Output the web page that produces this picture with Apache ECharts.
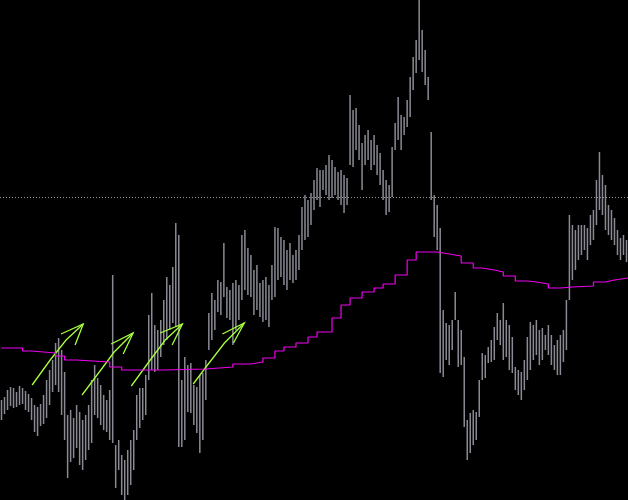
<!DOCTYPE html>
<html><head><meta charset="utf-8">
<script src="https://cdn.jsdelivr.net/npm/echarts@6/dist/echarts.min.js"></script>
<style>html,body{margin:0;padding:0;background:#000;}#c{width:628px;height:500px;}</style>
</head><body><div id="c"></div>
<script>
// Bar highs (price units)
var highs = [100,103,110,113,112,108,114,112,109,106,102,95,93,96,105,120,130,140,157,162,
150,128,85,90,82,95,88,80,85,95,120,135,122,115,105,100,110,225,55,60,
45,40,50,60,70,105,112,112,125,185,207,175,170,180,200,223,215,233,277,265,
120,143,135,137,115,113,125,127,140,187,207,200,220,218,257,213,210,217,220,215,
265,270,252,245,230,235,217,220,223,215,235,273,272,263,260,250,257,245,250,265,
293,305,300,307,320,332,330,330,335,345,340,333,328,330,325,322,405,390,392,375,
357,365,370,360,365,355,347,330,320,315,353,377,403,385,383,400,423,443,460,500,
470,450,423,368,305,295,272,190,177,175,180,208,180,170,143,80,87,90,88,120,
147,145,153,160,173,187,180,197,180,175,163,133,130,128,140,163,178,175,180,170,
172,165,175,165,155,160,165,170,200,285,275,270,275,275,275,272,285,290,320,348,
325,315,295,290,282,270,262,265,260];
// Bar lows (price units)
var lows = [80,86,90,94,92,93,95,96,90,88,80,68,64,74,76,82,95,108,115,108,
85,60,22,38,42,52,35,30,40,50,57,85,82,75,70,68,60,57,12,30,
5,0,5,15,30,60,72,80,85,120,130,128,130,143,155,160,170,177,173,53,
53,60,88,87,75,67,47,60,100,150,160,170,188,185,203,182,180,155,170,180,
200,210,205,203,185,190,183,178,180,173,200,203,220,223,215,210,220,217,220,230,
250,260,263,275,290,300,293,310,305,300,302,305,300,295,287,295,335,333,350,340,
310,335,340,330,335,325,315,300,285,288,303,350,360,350,365,373,383,410,427,440,
428,415,400,300,263,250,127,123,140,135,150,180,133,135,73,40,47,55,60,83,
120,122,137,138,140,160,155,140,143,130,127,110,105,100,110,120,130,140,145,135,
140,150,145,135,130,125,125,138,150,200,220,230,240,245,250,240,255,260,275,290,
285,270,265,260,255,245,240,245,238];
// Moving average steps: [bar index where level starts, level]
var maSteps = [[0,152],[7,149],[10,147],[18,144],[21,140],[25,138],[36,133],[40,130],[54,131],[68,133],
[77,136],[83,138],[87,142],[91,149],[94,153],[98,157],[102,163],[105,168],[110,182],[113,195],
[116,202],[120,208],[124,212],[127,216],[131,225],[135,240],[138,248],[145,246],[149,244],[153,237],
[157,232],[160,230],[164,228],[167,224],[171,219],[175,218],[178,216],[182,212],[186,213],[190,214],
[197,218],[201,220],[204,222],[208.5,222]];
// Horizontal dotted level
var level = 303;
// Hand-drawn arrows (bar index, price): shaft and head
var arrowShafts = [
 [[10.2,115],[16.2,140],[21.5,160],[27.2,176]],
 [[26.8,105],[31.8,125],[37.5,148],[43.8,167]],
 [[43.2,114],[49.5,140],[54.5,160],[60.2,176]],
 [[63.8,116],[67.8,132],[74.2,157],[80.8,177]]
];
var arrowHeads = [
 [[19.8,166],[27.2,176],[24.5,155]],
 [[36.5,156],[43.8,167],[40.5,146]],
 [[52.8,167],[60.2,176],[56.8,155]],
 [[73.5,166],[80.8,177],[77.2,157]]
];

var N = highs.length;
var barData = highs.map(function(h,i){return [i,h,lows[i]];});
var arrowData = [];
arrowShafts.forEach(function(s){arrowData.push({coords:s});});
arrowHeads.forEach(function(s){arrowData.push({coords:s});});

var chart = echarts.init(document.getElementById('c'));
chart.setOption({
  backgroundColor:'#000',
  animation:false,
  grid:{left:0,right:0,top:0,bottom:0},
  xAxis:{type:'value',min:-0.5,max:N-0.5,show:false},
  yAxis:{type:'value',min:0,max:500,show:false},
  series:[
    {type:'custom',silent:true,data:barData,
     renderItem:function(params,api){
       var p1=api.coord([api.value(0),api.value(1)]);
       var p2=api.coord([api.value(0),api.value(2)]);
       return {type:'line',shape:{x1:p1[0],y1:p1[1],x2:p2[0],y2:p2[1]},
               style:{stroke:'#8a8a95',lineWidth:1.5}};
     }},
    {type:'line',step:'end',data:maSteps,symbol:'none',silent:true,
     lineStyle:{color:'#f000f0',width:1.2},
     markLine:{silent:true,symbol:'none',label:{show:false},
       lineStyle:{color:'#9a9a9a',type:[1,2],width:1},
       data:[{yAxis:level}]}},
    {type:'lines',coordinateSystem:'cartesian2d',polyline:true,silent:true,
     lineStyle:{color:'#a6ff3c',width:1.3,opacity:1},data:arrowData}
  ]
});
</script></body></html>
